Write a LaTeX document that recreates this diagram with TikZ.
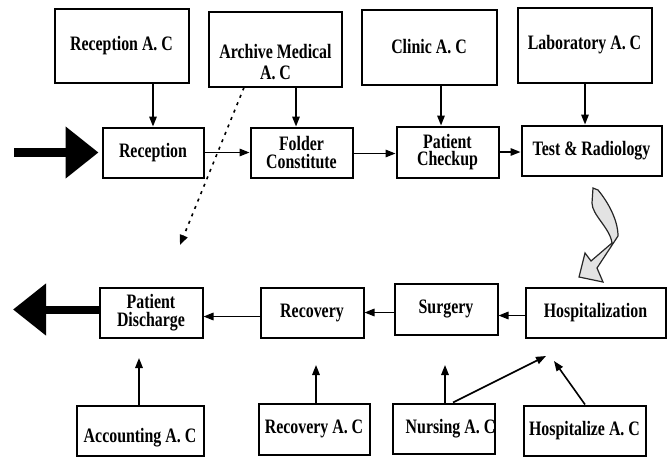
\documentclass[tikz,border=0pt]{standalone}
\usepackage{fontspec}
\newfontfamily\lblfont{Liberation Serif}[FakeStretch=0.775]
\usetikzlibrary{arrows.meta}
\begin{document}
\begin{tikzpicture}[x=1pt,y=-1pt,
  boxtext/.style={align=center, inner sep=0pt, font=\lblfont\bfseries\fontsize{20.5}{17.5}\selectfont},
  box/.style={draw, line width=2pt, boxtext},
  arr/.style={line width=1.6pt, -{Triangle[length=10pt,width=7.5pt]}},
  dotarr/.style={line width=1.6pt, dash pattern=on 3pt off 5pt, -{Triangle[length=10pt,width=8pt]}},
  bigarr/.style={line width=#1, -{Triangle[length=33pt,width=50pt]}}]
\useasboundingbox (0,0) rectangle (672,459);

% top row (A. C boxes)
\node[box, minimum width=134pt, minimum height=74pt] (recac) at (121.5,45.5) {Reception A. C};
\node[box, minimum width=133pt, minimum height=75pt,
      label={[boxtext, font=\lblfont\bfseries\fontsize{20.5}{20.5}\selectfont, yshift=-13pt]center:{Archive Medical\\A. C}}] (archac) at (275.5,49) {};
\node[box, minimum width=135pt, minimum height=75pt] (clinicac) at (429,47) {Clinic A. C};
\node[box, minimum width=134pt, minimum height=75pt] (labac) at (584.5,45) {Laboratory A. C};

% second row
\node[box, minimum width=101pt, minimum height=50pt] (reception) at (153,152.5) {Reception};
\node[box, minimum width=102pt, minimum height=50pt] (folder) at (301.5,152.5) {Folder\\Constitute};
\node[box, minimum width=102pt, minimum height=51pt] (checkup) at (447.5,152) {Patient\\Checkup};
\node[box, minimum width=140pt, minimum height=50pt] (test) at (591.5,150.5) {Test \& Radiology};

% third row
\node[box, minimum width=103pt, minimum height=50pt] (discharge) at (151,312.5) {Patient\\Discharge};
\node[box, minimum width=103pt, minimum height=50pt] (recovery) at (312,312.5) {Recovery};
\node[box, minimum width=103pt, minimum height=51pt] (surgery) at (446,309) {Surgery};
\node[box, minimum width=140pt, minimum height=50pt] (hosp) at (595.5,312.5) {Hospitalization};

% bottom row
\node[box, minimum width=127pt, minimum height=50pt,
      label={[boxtext, yshift=-7pt]center:{Accounting A. C}}] (accac) at (140,430.5) {};
\node[box, minimum width=111pt, minimum height=51pt] (recovac) at (314,429) {Recovery A. C};
\node[box, minimum width=102pt, minimum height=50pt,
      label={[boxtext, xshift=7pt]center:{Nursing A. C}}] (nursac) at (443.5,428.5) {};
\node[box, minimum width=122pt, minimum height=50pt] (hospac) at (584.5,430.5) {Hospitalize A. C};

% free ends
\coordinate (entry) at (14,152.5);
\coordinate (exitp) at (13,309.5);
\coordinate (dotend) at (180,245);
\coordinate (av) at (139,358);
\coordinate (rv) at (316,365);
\coordinate (nv) at (445,365);
\coordinate (ndg) at (546,356);
\coordinate (hz) at (554,361);

% big entry / exit arrows
\draw[bigarr=9pt, shorten >=3pt] (entry) -- (reception.west);
\draw[bigarr=8pt] ([yshift=3pt]discharge.west) -- (exitp);

% vertical arrows from top row
\draw[arr] (reception.north |- recac.south) -- (reception.north);
\draw[arr] ([xshift=-5.5pt]folder.north |- archac.south) -- ([xshift=-5.5pt]folder.north);
\draw[arr] ([xshift=-6.5pt]checkup.north |- clinicac.south) -- ([xshift=-6.5pt]checkup.north);
\draw[arr] ([xshift=-6.5pt]test.north |- labac.south) -- ([xshift=-6.5pt]test.north);

% second row flow
\draw[arr] (reception.east) -- (folder.west);
\draw[arr] ([yshift=-1pt]folder.east) -- ([yshift=-1pt]folder.east -| checkup.west);
\draw[arr] (checkup.east) -- (checkup.east -| test.west);

% dotted arrow
\draw[dotarr] ([xshift=36pt]archac.south west) -- (dotend);

% curved grey arrow from test to hospitalization
\filldraw[fill=gray!22, draw=black!85, line width=1.2pt, line join=miter]
  (593,188) -- (598,190) .. controls (608,202) and (618,220) .. (618,236)
  -- (597,268) -- (603,282) -- (579,277) -- (585,253) -- (591,261)
  -- (612,243) .. controls (610,228) and (592,215) .. (592,203) -- cycle;

% third row flow
\draw[arr] ([yshift=-3pt]hosp.west) -- ([yshift=-3pt]hosp.west -| surgery.east);
\draw[arr] (surgery.west |- recovery.east) -- (recovery.east);
\draw[arr] ([yshift=-4pt]recovery.west) -- ([yshift=-4pt]recovery.west -| discharge.east);

% arrows from bottom row
\draw[arr] (av |- accac.north) -- (av);
\draw[arr] (rv |- recovac.north) -- (rv);
\draw[arr] (nv |- nursac.north) -- (nv);
\draw[arr] ([xshift=9.5pt]nursac.north) -- (ndg);
\draw[arr] ([xshift=0.5pt]hospac.north) -- (hz);
\end{tikzpicture}
\end{document}
